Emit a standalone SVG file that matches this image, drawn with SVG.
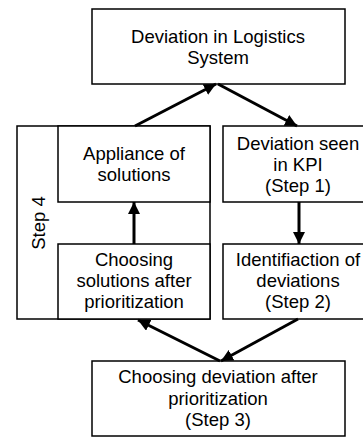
<svg xmlns="http://www.w3.org/2000/svg" width="363" height="437" viewBox="0 0 363 437">
<defs>
<style>
.box{fill:#fff;stroke:#000;stroke-width:1.5}
.t{font-family:"Liberation Sans",Arial,sans-serif;font-size:18.5px;fill:#000;text-anchor:middle}
.c{stroke:#000;stroke-width:3;fill:none;marker-end:url(#ah)}
</style>
<marker id="ah" markerUnits="userSpaceOnUse" markerWidth="12" markerHeight="12" refX="12" refY="6" orient="auto">
<path d="M0,0 L12,6 L0,12 z" fill="#000"/>
</marker>
</defs>
<rect width="363" height="437" fill="#fff"/>
<g id="top">
<rect class="box" x="92" y="9" width="253" height="75"/>
<text class="t" x="218" y="43">Deviation in Logistics</text>
<text class="t" x="218" y="64">System</text>
</g>
<g id="step4">
<rect class="box" x="17" y="126" width="193" height="193"/>
<text class="t" transform="translate(45,223) rotate(-90)" x="0" y="0">Step 4</text>
</g>
<g id="appliance">
<rect class="box" x="58" y="126" width="152" height="76"/>
<text class="t" x="134" y="160">Appliance of</text>
<text class="t" x="134" y="181">solutions</text>
</g>
<g id="choosing-solutions">
<rect class="box" x="58" y="244" width="152" height="75"/>
<text class="t" x="134" y="266">Choosing</text>
<text class="t" x="134" y="287">solutions after</text>
<text class="t" x="134" y="308">prioritization</text>
</g>
<g id="kpi">
<rect class="box" x="223" y="126" width="152" height="76"/>
<text class="t" x="298" y="150">Deviation seen</text>
<text class="t" x="298" y="171">in KPI</text>
<text class="t" x="298" y="192">(Step 1)</text>
</g>
<g id="identification">
<rect class="box" x="223" y="244" width="152" height="75"/>
<text class="t" x="298" y="266">Identifiaction of</text>
<text class="t" x="298" y="287">deviations</text>
<text class="t" x="298" y="308">(Step 2)</text>
</g>
<g id="bottom">
<rect class="box" x="92" y="361" width="253" height="75"/>
<text class="t" x="218" y="383">Choosing deviation after</text>
<text class="t" x="218" y="405">prioritization</text>
<text class="t" x="218" y="426">(Step 3)</text>
</g>
<g id="connectors">
<line class="c" x1="135" y1="126" x2="216" y2="84"/>
<line class="c" x1="218" y1="84" x2="297" y2="126"/>
<line class="c" x1="299" y1="202" x2="299" y2="244"/>
<line class="c" x1="298" y1="319" x2="221" y2="361"/>
<line class="c" x1="220" y1="361" x2="138" y2="320"/>
<line class="c" x1="134" y1="244" x2="134" y2="202"/>
</g>
</svg>
